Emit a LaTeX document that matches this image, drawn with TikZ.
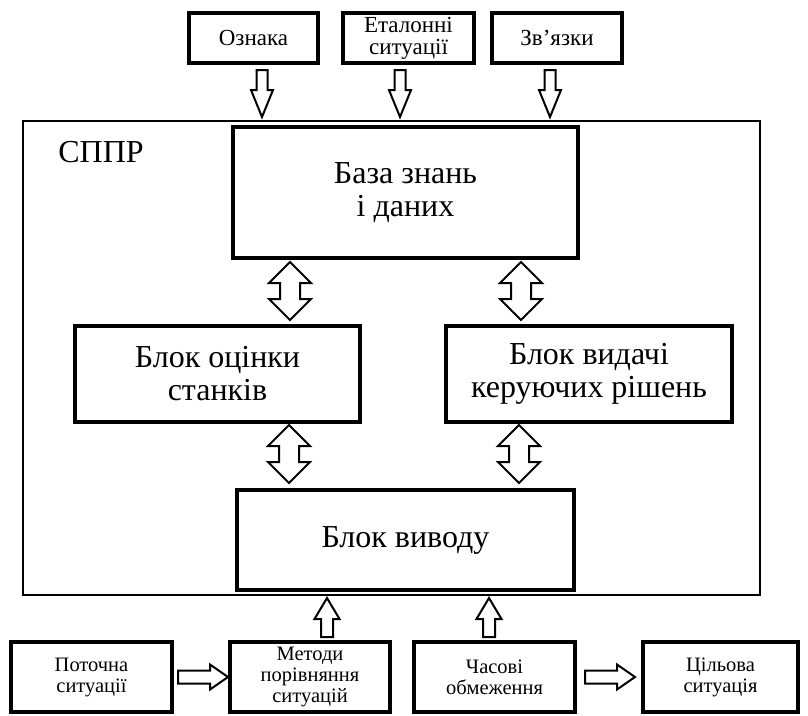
\documentclass[tikz,border=0pt]{standalone}
\usepackage{fontspec}
\setmainfont{Liberation Serif}
\begin{document}
\begin{tikzpicture}[x=1pt,y=-1pt,
  box/.style={draw,line width=3.2pt,align=center,inner sep=0pt},
  topbox/.style={box,minimum height=50pt,font=\fontsize{23}{22}\selectfont},
  midbox/.style={box,font=\fontsize{32}{33}\selectfont},
  botbox/.style={box,minimum height=70pt,font=\fontsize{20.5}{21}\selectfont},
  arr/.style={draw,line width=2pt,fill=white,line join=miter},
  downarr/.pic={\path[arr] (-5.5,0) -- (5.5,0) -- (5.5,20) -- (11,20) -- (0,47) -- (-11,20) -- (-5.5,20) -- cycle;},
  uparr/.pic={\path[arr] (0,0) -- (12.5,21) -- (6,21) -- (6,39) -- (-6,39) -- (-6,21) -- (-12.5,21) -- cycle;},
  rightarr/.pic={\path[arr] (0,-6.5) -- (32,-6.5) -- (32,-12.5) -- (50,0) -- (32,12.5) -- (32,6.5) -- (0,6.5) -- cycle;},
  dblarr/.pic={\path[arr] (0,-29) -- (21,-8) -- (10,-8) -- (10,8) -- (21,8) -- (0,29) -- (-21,8) -- (-10,8) -- (-10,-8) -- (-21,-8) -- cycle;}
]
\useasboundingbox (0,0) rectangle (808,715);
% frame
\node[draw,line width=1.3pt,minimum width=737pt,minimum height=474pt,inner sep=0pt] (frame) at (391.5,358) {};
\node[font=\fontsize{32}{32}\selectfont,inner sep=0pt] (sppr) at (101,152) {СППР};
% top boxes
\node[topbox,minimum width=129pt] (ozn) at (253.5,38) {Ознака};
\node[topbox,minimum width=131pt] (etal) at (408.5,38) {Еталонні\\ситуації};
\node[topbox,minimum width=130pt] (zv) at (557,38) {Зв’язки};
% inner boxes
\node[midbox,minimum width=345pt,minimum height=131pt] (baza) at (405.5,192.5) {База знань\\і даних};
\node[midbox,minimum width=285pt,minimum height=96pt] (ocin) at (217.5,374) {Блок оцінки\\станків};
\node[midbox,minimum width=286pt,minimum height=96pt] (vyd) at (589,374) {Блок видачі\\керуючих рішень};
\node[midbox,minimum width=337pt,minimum height=100pt] (vyv) at (405.5,540) {Блок виводу};
% bottom boxes
\node[botbox,minimum width=161pt] (pot) at (91.5,677) {Поточна\\ситуації};
\node[botbox,minimum width=160pt] (met) at (310,677) {Методи\\порівняння\\ситуацій};
\node[botbox,minimum width=161pt] (chas) at (494.5,677) {Часові\\обмеження};
\node[botbox,minimum width=155pt] (cil) at (720.5,677) {Цільова\\ситуація};
% arrow anchors
\coordinate (a1) at (262,70);
\coordinate (a2) at (400,70);
\coordinate (a3) at (550,70);
\coordinate (d1) at (290,291);
\coordinate (d2) at (521,291);
\coordinate (d3) at (289,454);
\coordinate (d4) at (519,454);
\coordinate (u1) at (327,598);
\coordinate (u2) at (489,598);
\coordinate (r1) at (178,677);
\coordinate (r2) at (585,677);
\pic at (a1) {downarr};
\pic at (a2) {downarr};
\pic at (a3) {downarr};
\pic at (d1) {dblarr};
\pic at (d2) {dblarr};
\pic at (d3) {dblarr};
\pic at (d4) {dblarr};
\pic at (u1) {uparr};
\pic at (u2) {uparr};
\pic at (r1) {rightarr};
\pic at (r2) {rightarr};
\end{tikzpicture}
\end{document}
